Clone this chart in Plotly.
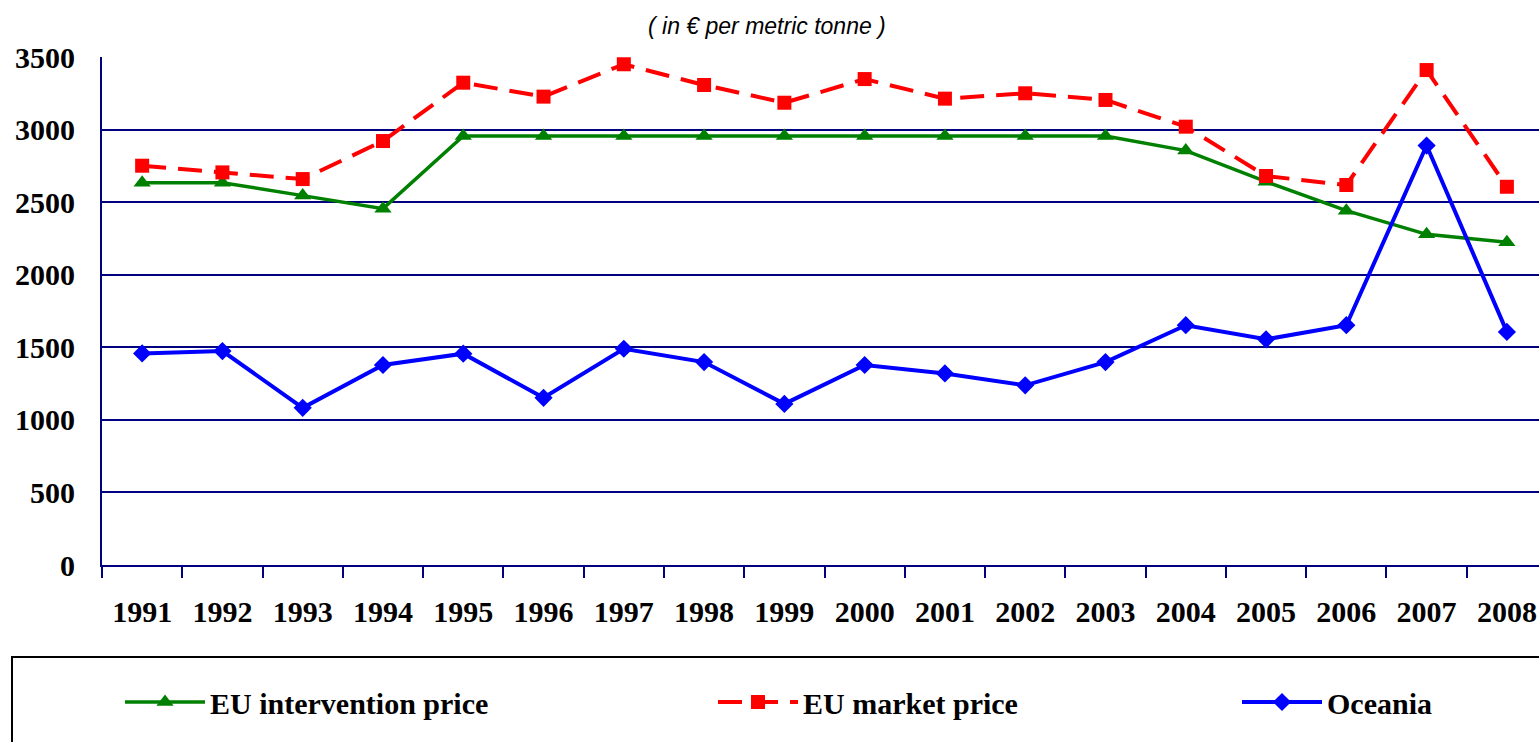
import plotly.graph_objects as go

years = [str(y) for y in range(1991, 2009)]

# values, EUR per tonne
intervention_price = [2634, 2634, 2545, 2455, 2956, 2956, 2956, 2956, 2956,
                      2956, 2956, 2956, 2956, 2855, 2641, 2441, 2278, 2223]
market_price = [2751, 2705, 2659, 2921, 3323, 3227, 3450, 3307, 3185,
                3348, 3213, 3250, 3204, 3020, 2680, 2618, 3410, 2606]
oceania = [1458, 1474, 1083, 1378, 1456, 1152, 1490, 1398, 1110,
           1378, 1320, 1238, 1398, 1652, 1555, 1652, 2890, 1606]

navy = "#000080"
tick_font = dict(family="Liberation Serif", size=30, color="black", weight="bold")
legend_font = dict(family="Liberation Serif", size=30, color="black", weight="bold")

PLOT_W = 1437
PLOT_H = 508

fig = go.Figure()

fig.add_trace(go.Scatter(
    x=years, y=intervention_price, name="EU intervention price",
    mode="lines+markers", legend="legend",
    line=dict(color="#008000", width=3.5),
    marker=dict(symbol="triangle-up", size=15, color="#008000"),
))
fig.add_trace(go.Scatter(
    x=years, y=market_price, name="EU market price",
    mode="lines+markers", legend="legend2",
    line=dict(color="#FF0000", width=4, dash="24px,12px"),
    marker=dict(symbol="square", size=14, color="#FF0000"),
))
fig.add_trace(go.Scatter(
    x=years, y=oceania, name="Oceania",
    mode="lines+markers", legend="legend3",
    line=dict(color="#0000FF", width=4),
    marker=dict(symbol="diamond", size=14, color="#0000FF"),
))

# box around the legend
fig.add_shape(type="rect", xref="paper", yref="paper",
              x0=(12 - 102) / PLOT_W, x1=1.02,
              y0=(565 - 760) / PLOT_H, y1=(565 - 657) / PLOT_H,
              line=dict(color="black", width=2), fillcolor="rgba(0,0,0,0)")

fig.add_annotation(
    text="( in € per metric tonne )", xref="paper", yref="paper",
    x=(767 - 102) / PLOT_W, y=(565 - 26) / PLOT_H,
    showarrow=False, xanchor="center", yanchor="middle",
    font=dict(family="Liberation Sans", size=23, color="black",
              style="italic", weight="normal"),
)

def legend_at(px):
    return dict(orientation="h", x=(px - 102) / PLOT_W, y=(565 - 702) / PLOT_H,
                xanchor="left", yanchor="middle", itemwidth=80,
                font=legend_font, bgcolor="rgba(0,0,0,0)")

fig.update_layout(
    width=1539, height=742,
    margin=dict(l=102, r=0, t=57, b=177, autoexpand=False),
    plot_bgcolor="white", paper_bgcolor="white",
    font=dict(family="Liberation Serif", size=30, color="black"),
    showlegend=True,
    legend=legend_at(120),
    legend2=legend_at(713),
    legend3=legend_at(1237),
    xaxis=dict(
        type="category", range=[-0.5, 17.4], automargin=False,
        showgrid=False, showline=True, linecolor=navy, linewidth=2,
        ticks="outside", tickson="boundaries", ticklen=11, tickcolor=navy, tickwidth=2,
        ticklabelstandoff=19, tickfont=tick_font,
    ),
    yaxis=dict(
        range=[0, 3500], dtick=500, tick0=0, automargin=False,
        showgrid=True, gridcolor=navy, gridwidth=2,
        showline=True, linecolor=navy, linewidth=2,
        zeroline=False, ticks="", ticklabelstandoff=19, tickfont=tick_font,
    ),
)

# drop the browser's default body margin so the figure fills the window
fig.write_html("out.html", config={"displayModeBar": False},
               post_script="document.body.style.margin='0';")
